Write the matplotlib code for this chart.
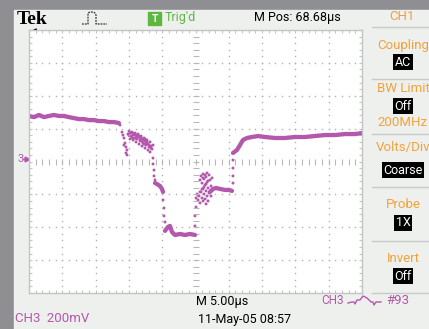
import matplotlib
matplotlib.use("Agg")
import numpy as np
import matplotlib.pyplot as plt
from matplotlib.patches import Rectangle

# trace values, time in us (5 us/div), amplitude in mV (200 mV/div)
seg_a_t = [0, 0.75, 1.5, 2.25, 3.0, 3.75, 4.5, 5.25, 6.0, 6.75, 7.5, 8.25, 9.0, 9.75, 10.5, 11.25, 12.0, 12.75, 13.5]
seg_a_v = [277, 270, 283, 270, 277, 283, 277, 277, 270, 264, 258, 258, 252, 252, 246, 246, 240, 240, 234]
seg_b_t = [18.92, 19.22, 19.67, 19.97, 20.12]
seg_b_v = [-131, -137, -149, -167, -185]
seg_c_t = [20.42, 20.87, 21.17, 21.47, 21.92, 22.67, 23.42, 24.17, 24.92]
seg_c_v = [-422, -398, -392, -429, -447, -441, -447, -441, -447]
seg_d_t = [27.18, 27.63, 28.08, 28.68, 29.43, 30.03, 30.48]
seg_d_v = [-185, -167, -161, -167, -173, -173, -179]
seg_e_t = [30.63, 31.23, 31.68, 32.13, 32.73, 33.48, 34.38, 35.44, 36.94, 38.44, 39.94,
           41.44, 42.94, 44.44, 45.95, 47.45, 48.95, 50.0]
seg_e_v = [52, 70, 100, 131, 143, 149, 155, 149, 143, 143, 149, 149, 155, 161, 161, 167, 167, 173]

# sparse samples on the edges and the noisy parts
drop1_t = [13.66, 13.96, 14.11, 14.26, 14.41, 14.56, 14.71, 14.71, 14.56, 14.26]
drop1_v = [222, 179, 161, 143, 112, 88, 70, 40, 52, 100]
blob1_t = [14.86, 15.02, 15.17, 15.32, 15.47, 15.62, 15.77, 15.92, 16.07, 16.22, 16.37, 16.52,
           16.67, 16.82, 16.97, 17.12, 17.27, 17.42, 17.57, 17.72, 17.87, 18.02, 18.17, 18.32,
           18.47, 17.87, 17.42, 16.97, 16.52, 16.07, 15.62, 15.17, 18.17, 18.62,
           15.02, 15.32, 15.62, 15.92, 16.22, 16.52, 16.82, 17.12, 17.42, 17.72, 18.02, 18.32,
           15.47, 15.77, 16.07, 16.37, 16.67, 16.97, 17.27, 17.57]
blob1_v = [167, 185, 173, 155, 179, 161, 143, 173, 155, 137, 167, 149,
           125, 155, 137, 112, 143, 125, 100, 131, 106, 88, 119, 94,
           76, 70, 82, 94, 106, 119, 131, 137, 58, 100,
           158, 176, 170, 164, 161, 155, 146, 131, 137, 119, 100, 82,
           146, 164, 140, 152, 134, 122, 106, 112]
drop2_t = [18.62, 18.62, 18.77, 18.77, 18.92, 20.12, 20.27, 20.27, 20.42]
drop2_v = [21, -15, -52, -88, -112, -234, -283, -331, -368]
blob2_t = [24.92, 24.92, 25.08, 25.08, 25.23, 25.38, 25.53, 25.68, 25.83, 25.98, 26.13, 26.28,
           26.43, 26.58, 26.73, 26.88, 25.68, 25.83, 25.98, 26.13, 26.28, 26.43, 26.58, 26.73,
           26.88, 27.03, 27.18, 27.33, 27.48, 26.13, 26.58, 27.03, 27.33,
           25.38, 25.68, 25.98, 26.28, 26.58, 26.88, 26.13, 26.43, 26.73]
blob2_v = [-392, -331, -277, -222, -198, -234, -210, -252, -185, -222, -240, -198,
           -228, -258, -210, -240, -112, -88, -131, -76, -106, -143, -94, -125,
           -161, -82, -112, -149, -100, -167, -179, -191, -210,
           -204, -185, -167, -155, -137, -118, -100, -82, -70]
rise_t = [30.63, 30.63, 30.63, 30.63]
rise_v = [-131, -88, -40, 9]

TRACE = "#b458ac"
ORANGE = "#f2a23c"
GREEN = "#5cb840"
W, H = 429, 329

fig = plt.figure(figsize=(W / 100, H / 100), dpi=100)
fig.patch.set_facecolor("#8f8f93")

bg = fig.add_axes([0, 0, 1, 1])
bg.set_xlim(0, W)
bg.set_ylim(H, 0)
bg.axis("off")
bg.add_patch(Rectangle((14, 10), W - 14, H - 10, color="#eef0ee", zorder=0))

narrow = ["Liberation Sans Narrow", "Roboto", "DejaVu Sans"]

# top status line
bg.text(17, 19, "Tek", family="Liberation Serif", weight="bold", fontsize=14, va="center", ha="left")
bg.plot([82, 84, 86, 88, 88, 90, 93, 95, 96, 96, 99, 102, 105, 107],
        [24, 24, 24, 24, 13, 12, 12, 13, 15, 24, 24, 24, 24, 24], color="#333333", lw=0.9, ls=(0, (1.5, 0.8)))
bg.add_patch(Rectangle((148, 12), 13, 13, color=GREEN))
bg.text(154.5, 18.5, "T", color="white", fontsize=7.5, weight="bold", ha="center", va="center", family=narrow)
bg.text(165, 17, "Trig'd", color=GREEN, fontsize=9, ha="left", va="center", family=narrow)
bg.text(297, 17, "M Pos: 68.68µs", color="black", fontsize=9, ha="center", va="center", family=narrow)
bg.text(402, 17, "CH1", color=ORANGE, fontsize=9.5, ha="center", va="center", family=narrow)

# side menu
for ys in [27, 79, 134, 187, 241, 293]:
    bg.plot([372, W], [ys, ys], color="#c9cbc9", lw=1)
box = dict(facecolor="black", edgecolor="none", pad=1.2)
menu_labels = [("Coupling", 45), ("BW Limit", 89), ("200MHz", 122), ("Volts/Div", 148),
               ("Probe", 205), ("Invert", 259)]
menu_values = [("AC", 62), ("Off", 106), ("Coarse", 170), ("1X", 223), ("Off", 276)]
for lab, yy in menu_labels:
    bg.text(403, yy, lab, color=ORANGE, fontsize=9.5, ha="center", va="center", family=narrow)
for val, yy in menu_values:
    bg.text(403, yy, val, color="white", fontsize=9, ha="center", va="center", family=narrow, bbox=box)

# bottom status lines
bg.text(222, 302, "M 5.00µs", color="black", fontsize=9, ha="center", va="center", family=narrow)
bg.text(321, 300, "CH3", color=TRACE, fontsize=8.5, ha="left", va="center", family=narrow)
bg.plot([348, 352, 354, 355, 357, 360, 363, 367, 371, 373, 374, 376, 381],
        [303, 302, 302, 304, 300, 300, 296, 298, 302, 302, 305, 302, 302], color=TRACE, lw=1)
bg.text(386, 300, "#93", color=TRACE, fontsize=9.5, ha="left", va="center", family=narrow)
bg.text(15, 319, "CH3  200mV", color=TRACE, fontsize=9.5, ha="left", va="center", family=narrow)
bg.text(244, 319, "11-May-05 08:57", color="black", fontsize=9, ha="center", va="center", family=narrow)

# channel marker and trigger position arrow
bg.text(17, 158.5, "3", color=TRACE, fontsize=8, ha="left", va="center", family=narrow)
bg.plot([23, 27], [158.5, 158.5], color=TRACE, lw=1)
bg.plot([27], [158.5], marker=">", ms=3.5, color=TRACE)
bg.annotate("", xy=(28, 31), xytext=(37, 31),
            arrowprops=dict(arrowstyle="-|>", color="black", lw=1.3, mutation_scale=6))

# graticule
ax = fig.add_axes([29 / W, 1 - 293 / H, 333 / W, 263 / H])
ax.set_facecolor("white")
ax.set_xlim(0, 50)
ax.set_ylim(-800, 800)
for s in ax.spines.values():
    s.set_color("#c4c4c4")
    s.set_linewidth(1)
ax.set_xticks(np.arange(0, 51, 5))
ax.set_xticks(np.arange(0, 51, 1), minor=True)
ax.set_yticks(np.arange(-800, 801, 200))
ax.set_yticks(np.arange(-800, 801, 40), minor=True)
ax.tick_params(which="both", direction="in", length=2.5, width=0.8, color="#c4c4c4",
               top=True, right=True, labelbottom=False, labelleft=False)

minor_t = np.arange(0, 50.01, 1)
minor_v = np.arange(-800, 800.1, 40)
for gx in [5, 10, 15, 20, 30, 35, 40, 45]:
    ax.plot(np.full_like(minor_v, gx), minor_v, ls="none", marker="s", ms=1, mec="none", color="#b0b0b0")
for gy in [-600, -400, -200, 200, 400, 600]:
    ax.plot(minor_t, np.full_like(minor_t, gy), ls="none", marker="s", ms=1, mec="none", color="#b0b0b0")
ax.plot(minor_t, np.zeros_like(minor_t), ls="none", marker="|", ms=4, mew=0.8, color="#b8b8b8")
ax.plot(np.full_like(minor_v, 25), minor_v, ls="none", marker="_", ms=4, mew=0.8, color="#b8b8b8")

# trace
for tt, vv in [(seg_a_t, seg_a_v), (seg_b_t, seg_b_v), (seg_c_t, seg_c_v),
               (seg_d_t, seg_d_v), (seg_e_t, seg_e_v)]:
    ax.plot(tt, vv, color=TRACE, lw=3.1, solid_joinstyle="round", solid_capstyle="round")
for tt, vv in [(drop1_t, drop1_v), (blob1_t, blob1_v), (drop2_t, drop2_v),
               (blob2_t, blob2_v), (rise_t, rise_v)]:
    ax.scatter(tt, vv, s=4.5, color=TRACE, edgecolors="none")

fig.savefig("out.png", dpi=100, facecolor=fig.get_facecolor())
